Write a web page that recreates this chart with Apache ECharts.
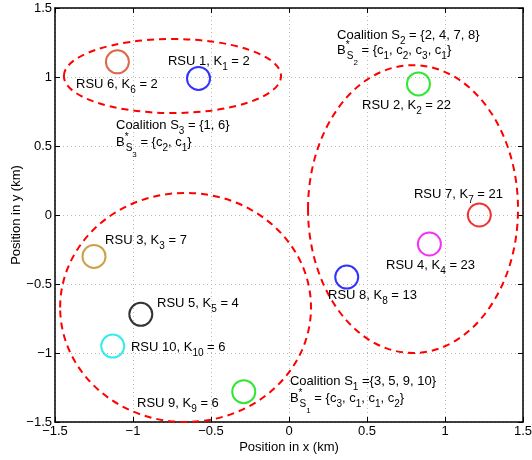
<!DOCTYPE html>
<html>
<head>
<meta charset="utf-8">
<script src="https://cdn.jsdelivr.net/npm/echarts@6/dist/echarts.min.js"></script>
<style>html,body{margin:0;padding:0;background:#fff}#c{width:532px;height:460px}</style>
</head>
<body>
<div id="c"></div>
<script>
// ---- data ----
const xTicks = [-1.5, -1, -0.5, 0, 0.5, 1, 1.5];
const xTickLabels = ['\u22121.5', '\u22121', '\u22120.5', '0', '0.5', '1', '1.5'];
const yTicks = [-1.5, -1, -0.5, 0, 0.5, 1, 1.5];
const yTickLabels = ['\u22121.5', '\u22121', '\u22120.5', '0', '0.5', '1', '1.5'];

const rsuId = [1, 2, 3, 4, 5, 6, 7, 8, 9, 10];
const rsuX = [-0.58, 0.83, -1.25, 0.90, -0.95, -1.10, 1.22, 0.37, -0.29, -1.13];
const rsuY = [0.99, 0.95, -0.30, -0.21, -0.72, 1.11, 0.00, -0.45, -1.28, -0.95];
const rsuK = [2, 22, 7, 23, 4, 2, 21, 13, 6, 6];
// RSU text annotation anchors (data coords, left / middle)
const rsuLabelX = [-0.776, 0.468, -1.179, 0.622, -0.846, -1.365, 0.801, 0.25, -0.974, -1.013];
const rsuLabelY = [1.116, 0.797, -0.181, -0.362, -0.638, 0.949, 0.152, -0.58, -1.362, -0.957];

// coalitions (ellipses)
const coalId = [1, 2, 3];
const coalMembers = ['3, 5, 9, 10', '2, 4, 7, 8', '1, 6'];
const coalBest = [['3', '1', '1', '2'], ['1', '2', '3', '1'], ['2', '1']];
const coalCx = [-0.663, 0.795, -0.747];
const coalCy = [-0.67, 0.043, 1.007];
const coalA = [0.804, 0.673, 0.696];
const coalB = [0.83, 1.043, 0.268];
const coalLabelX = [0.006, 0.308, -1.109];
const coalLabelY1 = [-1.203, 1.304, 0.652];
const coalLabelY2 = [-1.326, 1.196, 0.529];

// ---- styles ----
const rsuColors = ['#0000ff', '#00e000', '#bf8a1c', '#f000f0', '#000000', '#d8401c', '#ee0000', '#0000ff', '#00e000', '#00e8e8'];
const FONT = "'Liberation Sans', Arial, Helvetica, sans-serif";
const rich = {
  s: { fontSize: 10, fontFamily: FONT, fill: '#000', padding: [12, 0, 0, 0] },
  ss: { fontSize: 8, fontFamily: FONT, fill: '#000', padding: [26, 0, 0, 0] },
  sup: { fontSize: 10, fontFamily: FONT, fill: '#000', padding: [0, 0, 10, 0], width: 1 }
};

// build annotations
const texts = [];
rsuId.forEach((id, i) => {
  texts.push([rsuLabelX[i], rsuLabelY[i], 'RSU ' + id + ', K{s|' + id + '} = ' + rsuK[i]]);
});
coalId.forEach((id, i) => {
  const eq = id === 1 ? ' =' : ' = ';
  texts.push([coalLabelX[i], coalLabelY1[i], 'Coalition S{s|' + id + '}' + eq + '{' + coalMembers[i] + '}']);
  const best = coalBest[i].map(c => 'c{s|' + c + '}').join(', ');
  texts.push([coalLabelX[i], coalLabelY2[i], 'B{sup|*}{s|S}{ss|' + id + '} = {' + best + '}']);
});

const chart = echarts.init(document.getElementById('c'), null, { renderer: 'canvas' });
const tickFmt = (ticks, labels) => v => {
  const idx = Math.round((v - ticks[0]) / 0.5);
  return labels[idx] !== undefined ? labels[idx] : '';
};
const gridLine = { show: true, lineStyle: { color: '#b8b8b8', type: [1, 3], width: 1 } };
const axisCommon = {
  type: 'value', min: -1.5, max: 1.5, interval: 0.5,
  axisLine: { show: true, onZero: false, lineStyle: { color: '#000', width: 1.5 } },
  axisTick: { show: true, inside: true, length: 5, lineStyle: { color: '#000' } }
};

chart.setOption({
  animation: false,
  grid: { left: 55, right: 9, top: 8, bottom: 38, containLabel: false, outerBoundsMode: 'none' },
  xAxis: [
    Object.assign({}, axisCommon, {
      position: 'bottom',
      name: 'Position in x (km)', nameLocation: 'middle', nameGap: 19, nameMoveOverlap: false,
      nameTextStyle: { fontSize: 13, fontFamily: FONT, color: '#000' },
      axisLabel: { fontSize: 13, fontFamily: FONT, color: '#000', margin: 3, formatter: tickFmt(xTicks, xTickLabels) },
      splitLine: gridLine
    }),
    Object.assign({}, axisCommon, {
      position: 'top', axisLabel: { show: false }, splitLine: { show: false }
    })
  ],
  yAxis: [
    Object.assign({}, axisCommon, {
      position: 'left',
      name: 'Position in y (km)', nameLocation: 'middle', nameGap: 32, nameMoveOverlap: false,
      nameTextStyle: { fontSize: 13, fontFamily: FONT, color: '#000' },
      axisLabel: { fontSize: 13, fontFamily: FONT, color: '#000', margin: 3, formatter: tickFmt(yTicks, yTickLabels) },
      splitLine: gridLine
    }),
    Object.assign({}, axisCommon, {
      position: 'right', axisLabel: { show: false }, splitLine: { show: false }
    })
  ],
  series: [
    {
      type: 'custom',
      coordinateSystem: 'cartesian2d',
      data: coalId.map((id, i) => [coalCx[i], coalCy[i], coalA[i], coalB[i]]),
      renderItem: (params, api) => {
        const c = api.coord([api.value(0), api.value(1)]);
        const sz = api.size([api.value(2), api.value(3)]);
        return {
          type: 'ellipse',
          shape: { cx: c[0], cy: c[1], rx: sz[0], ry: sz[1] },
          style: { fill: 'none', stroke: '#ff0000', lineWidth: 2, lineDash: [7, 5] },
          z2: 1
        };
      },
      z: 2
    },
    {
      type: 'scatter',
      symbol: 'circle',
      symbolSize: 23,
      data: rsuId.map((id, i) => ({
        value: [rsuX[i], rsuY[i]],
        itemStyle: { color: 'rgba(0,0,0,0)', borderColor: rsuColors[i], borderWidth: 2 }
      })),
      z: 3
    },
    {
      type: 'custom',
      coordinateSystem: 'cartesian2d',
      data: texts.map(t => [t[0], t[1]]),
      renderItem: (params, api) => {
        const c = api.coord([api.value(0), api.value(1)]);
        return {
          type: 'text',
          x: c[0], y: c[1],
          style: {
            text: texts[params.dataIndex][2],
            fontSize: 13, fontFamily: FONT, fill: '#000',
            align: 'left', verticalAlign: 'middle',
            rich: rich
          }
        };
      },
      z: 4
    }
  ]
});
</script>
</body>
</html>
